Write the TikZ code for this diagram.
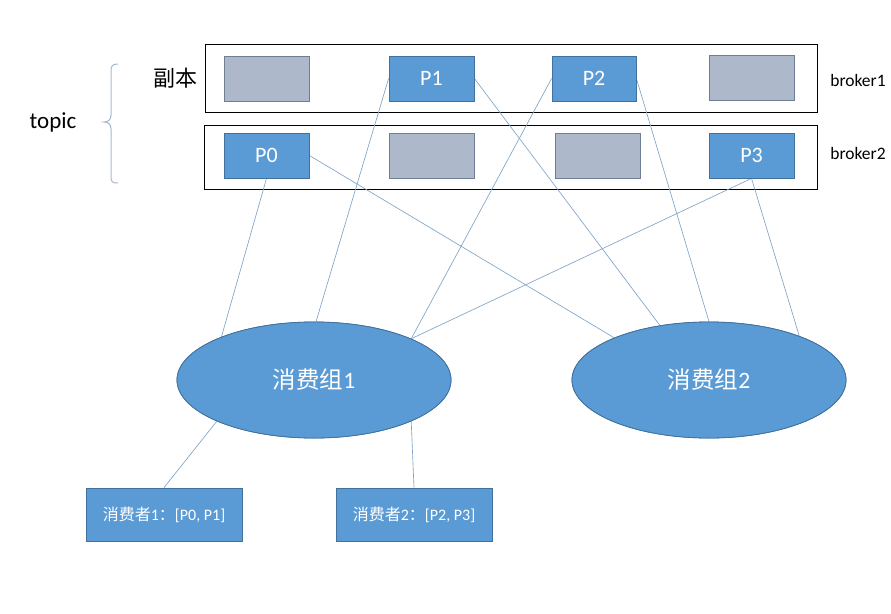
\documentclass[tikz,border=0pt]{standalone}
\usepackage{fontspec}
\setmainfont{Carlito}
\newfontfamily\cjk{Noto Sans CJK SC}
\usetikzlibrary{shapes.geometric}
\definecolor{pblue}{HTML}{5B9BD5}
\definecolor{pborder}{HTML}{41719C}
\definecolor{pgray}{HTML}{ADB9CA}
\definecolor{gborder}{HTML}{6F7F93}
\definecolor{conn}{HTML}{7EA3C8}
\definecolor{bracec}{HTML}{A3B8CF}
\tikzset{
  part/.style={draw=pborder, fill=pblue, line width=0.8pt, minimum width=85pt, minimum height=45pt, inner sep=0pt, text=white, font=\fontsize{22}{26}\selectfont},
  replica/.style={draw=gborder, fill=pgray, line width=0.8pt, minimum width=85pt, minimum height=45pt, inner sep=0pt},
  brokerbox/.style={draw=black, line width=0.8pt, inner sep=0pt},
  grp/.style={ellipse, draw=pborder, fill=pblue, line width=0.8pt, minimum width=274pt, minimum height=116pt, inner sep=0pt, text=white, font=\fontsize{23.5}{28}\selectfont},
  consumer/.style={draw=pborder, fill=pblue, line width=0.8pt, minimum width=156pt, minimum height=53pt, inner sep=0pt, text=white, font=\fontsize{16}{19}\selectfont},
  link/.style={draw=conn, line width=0.65pt},
  lbl/.style={inner sep=0pt, text=black}
}
\begin{document}
\begin{tikzpicture}[x=1pt, y=-1pt]
\useasboundingbox (0,0) rectangle (891,613);
% broker frames
\node[brokerbox, minimum width=612pt, minimum height=68pt] (b1) at (511,78) {};
\node[brokerbox, minimum width=613pt, minimum height=64pt] (b2) at (510.5,157) {};
% nodes (placed first so links can refer to them)
\node[grp] (e1) at (314,380) {};
\node[grp] (e2) at (709,380) {};
\node[part] (P0) at (266.5,155.5) {P0};
\node[part] (P1) at (431.5,78.5) {P1};
\node[part, minimum width=84pt] (P2) at (594,78.5) {P2};
\node[part] (P3) at (751.5,155.5) {P3};
\node[consumer] (c1) at (164,514.5) {};
\node[consumer] (c2) at (414,514.5) {};
% links
\path[link] (P0.south) -- (e1.155.9);
\path[link] (P0.east) -- (e2.156.5);
\path[link] (P1.west) -- (e1.88);
\path[link] (P1.east) -- (e2.132.8);
\path[link] (P2.west) -- (e1.23.5);
\path[link] (P2.east) -- (e2.90);
\path[link] (P3.south) -- (e1.23.5);
\path[link] (P3.south) -- (e2.26.8);
\path[link] (e1.203.6) -- (c1.north);
\path[link] (e1.337.5) -- (c2.north);
% redraw nodes on top of the links
\node[grp] at (e1) {{\cjk 消费组}1};
\node[grp] at (e2) {{\cjk 消费组}2};
\node[part] at (P0) {P0};
\node[part] at (P1) {P1};
\node[part, minimum width=84pt] at (P2) {P2};
\node[part] at (P3) {P3};
\node[replica] (r1) at (266.5,78.5) {};
\node[replica] (r4) at (751.5,78) {};
\node[replica] (r2) at (431.5,155.5) {};
\node[replica] (r3) at (597.5,155.5) {};
\node[consumer] at (c1) {{\cjk 消费者}1{\cjk ：}[P0, P1]};
\node[consumer] at (c2) {{\cjk 消费者}2{\cjk ：}[P2, P3]};
% labels
\node[lbl, font=\fontsize{17.5}{21}\selectfont] (l1) at (858,80) {broker1};
\node[lbl, font=\fontsize{17.5}{21}\selectfont] (l2) at (858,153) {broker2};
\node[lbl, font=\cjk\fontsize{22}{26}\selectfont] (fb) at (175,78) {副本};
\node[lbl, font=\fontsize{23}{27}\selectfont] (tp) at (53,122) {topic};
% brace
\draw[bracec, line width=1pt] (118,64) .. controls (112,64) and (111,66) .. (111,72) -- (111,115) .. controls (111,120) and (108,122) .. (104,122) .. controls (108,122) and (111,124) .. (111,129) -- (111,176) .. controls (111,182) and (112,183) .. (118,183);
\end{tikzpicture}
\end{document}
